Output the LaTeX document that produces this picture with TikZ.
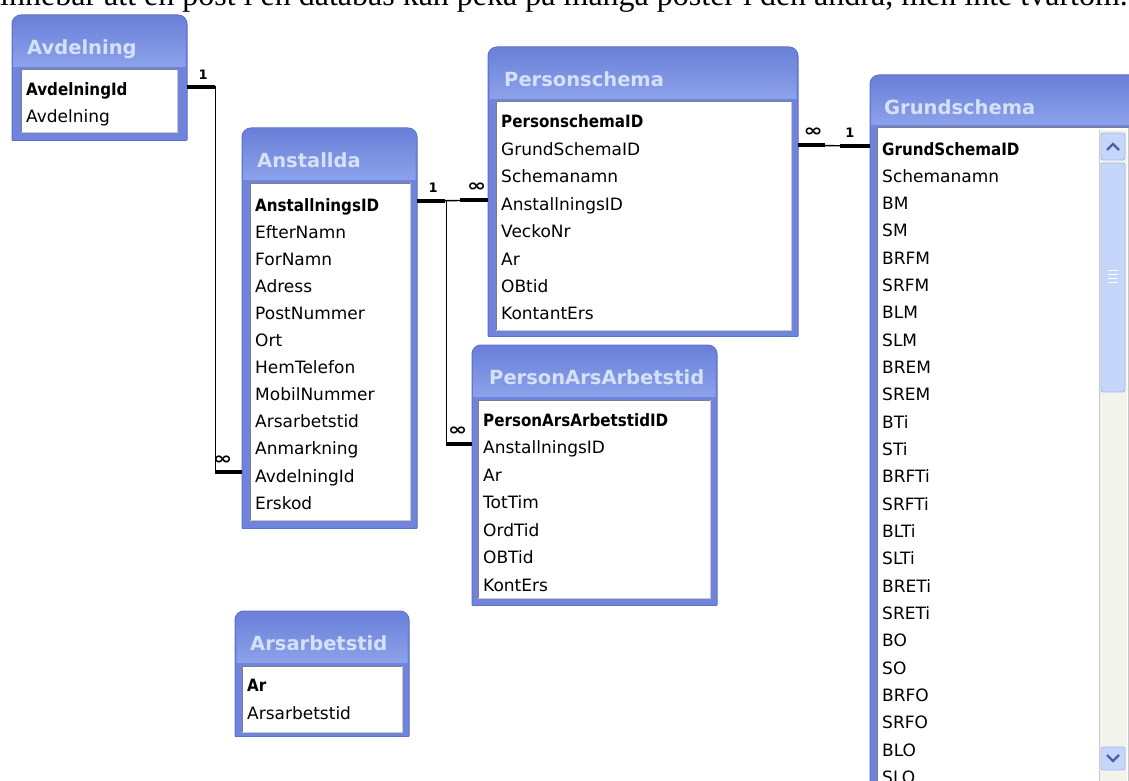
\documentclass[tikz,border=0pt]{standalone}
\usepackage{fontspec}
\setmainfont{DejaVu Sans}
\newfontfamily\keyfont[FakeStretch=0.89]{DejaVu Sans}
\newfontfamily\serifline{Liberation Serif}
\usetikzlibrary{calc,fit}
\definecolor{boxblue}{HTML}{6F84DA}
\definecolor{boxedge}{HTML}{5C70CE}
\definecolor{titletop}{HTML}{6A80D8}
\definecolor{titlebot}{HTML}{8CA2EB}
\definecolor{titletext}{HTML}{D5E1F7}
\definecolor{innerdark}{HTML}{7F7F7F}
\definecolor{innerlight}{HTML}{C8C8C8}
\definecolor{scrollbg}{HTML}{F3F3EE}
\definecolor{thumbfill}{HTML}{C6D5FA}
\definecolor{thumbedge}{HTML}{A9BAEB}
\definecolor{chevron}{HTML}{4D5FA6}
\tikzset{
  field/.style={anchor=base west, inner sep=0pt, text=black, font=\fontsize{17}{19}\selectfont},
  keyfield/.style={anchor=base west, inner sep=0pt, text=black, font=\keyfont\bfseries\fontsize{17}{19}\selectfont},
  ttl/.style={anchor=base west, inner sep=0pt, text=titletext, font=\bfseries\fontsize{19.5}{22}\selectfont},
  thickend/.style={line width=4pt},
  link/.style={line width=1.4pt},
  onelbl/.style={inner sep=0pt, font=\bfseries\fontsize{13}{13}\selectfont},
  manylbl/.style={inner sep=0pt, font=\bfseries\fontsize{17}{17}\selectfont},
}
\newcommand\tablebox[9]{%
  \node[fit={(#2,#3) (#4,#5)}, inner sep=0pt] (#1) {};
  \fill[boxblue, rounded corners=9pt] (#2,#5) -- (#2,#3) -- (#4,#3) -- (#4,#5);
  \shade[top color=titletop, bottom color=titlebot, rounded corners=8pt] (#2+1.5,#7-3) -- (#2+1.5,#3+1.5) -- (#4-1.5,#3+1.5) -- (#4-1.5,#7-3);
  \draw[boxedge, line width=1pt, rounded corners=9pt] (#2,#5) -- (#2,#3) -- (#4,#3) -- (#4,#5);
  \draw[boxedge, line width=1pt] (#2,#5) -- (#4,#5);
  \fill[white] (#6,#7) rectangle (#8,#9);
  \draw[innerdark, line width=1pt] (#6,#9) -- (#6,#7) -- (#8,#7);
  \draw[innerlight, line width=1pt] (#8,#7) -- (#8,#9) -- (#6,#9);
}
\newcommand\manysym{\scalebox{1.35}[1]{∞}}
\begin{document}
\begin{tikzpicture}[x=1pt,y=-1pt]
\useasboundingbox (0,0) rectangle (1129,781);
\fill[white] (0,0) rectangle (1129,781);
\clip (0,0) rectangle (1129,781);

% cut-off line of text at the top
\node[anchor=base west, inner sep=0pt, font=\serifline\fontsize{32}{32}\selectfont] (topline) at (0,6) {innebär att en post i en databas kan peka på många poster i den andra, men inte tvärtom.};

% ---------- Avdelning
\tablebox{avd}{12}{15}{187}{140}{21}{70}{177}{133}
\node[ttl] (avd-t) at (27,55) {Avdelning};
\node[keyfield] (avd-0) at (26,96) {AvdelningId};
\node[field] (avd-1) at (26,123) {Avdelning};

% ---------- Anstallda
\tablebox{anst}{242}{128}{417}{528}{250}{183}{410}{520}
\node[ttl] (anst-t) at (257,167) {Anstallda};
\node[keyfield] (anst-0) at (255,211) {AnstallningsID};
\foreach \t [count=\i] in {EfterNamn,ForNamn,Adress,PostNummer,Ort,HemTelefon,MobilNummer,Arsarbetstid,Anmarkning,AvdelningId,Erskod}
  \node[field] (anst-\i) at (255,211+27.1*\i) {\t};

% ---------- Personschema
\tablebox{pers}{488}{47}{798}{336}{496}{102}{791}{330}
\node[ttl] (pers-t) at (504,87) {Personschema};
\node[keyfield] (pers-0) at (501,128) {PersonschemaID};
\foreach \t [count=\i] in {GrundSchemaID,Schemanamn,AnstallningsID,VeckoNr,Ar,OBtid,KontantErs}
  \node[field] (pers-\i) at (501,128+27.4*\i) {\t};

% ---------- Grundschema
\tablebox{grund}{870}{75}{1140}{800}{877}{128}{1128}{800}
\node[ttl] (grund-t) at (884,114) {Grundschema};
\node[keyfield] (grund-0) at (882,155) {GrundSchemaID};
\foreach \t [count=\i] in {Schemanamn,BM,SM,BRFM,SRFM,BLM,SLM,BREM,SREM,BTi,STi,BRFTi,SRFTi,BLTi,SLTi,BRETi,SRETi,BO,SO,BRFO,SRFO,BLO,SLO}
  \node[field] (grund-\i) at (882,155+27.32*\i) {\t};
% scrollbar
\fill[scrollbg] (1099,130) rectangle (1127,800);
\draw[innerlight, line width=0.6pt] (1099,130) -- (1099,800);
\draw[draw=thumbedge, line width=0.8pt, rounded corners=2pt, fill=thumbfill] (1101,133) rectangle (1125,160);
\draw[chevron, line width=2.2pt] (1107,150) -- (1113,144) -- (1119,150);
\draw[draw=thumbedge, line width=0.8pt, rounded corners=2pt, fill=thumbfill] (1101,163) rectangle (1125,392);
\foreach \g in {270,274,278,282}
  \draw[white, line width=0.8pt] (1108,\g) -- (1118,\g);
\draw[draw=thumbedge, line width=0.8pt, rounded corners=2pt, fill=thumbfill] (1101,747) rectangle (1125,770);
\draw[chevron, line width=2.2pt] (1107,755) -- (1113,761) -- (1119,755);

% ---------- PersonArsArbetstid
\tablebox{paa}{472}{345}{717}{605}{478}{400}{710}{598}
\node[ttl] (paa-t) at (489,384) {PersonArsArbetstid};
\node[keyfield] (paa-0) at (483,426) {PersonArsArbetstidID};
\foreach \t [count=\i] in {AnstallningsID,Ar,TotTim,OrdTid,OBTid,KontErs}
  \node[field] (paa-\i) at (483,426+27.5*\i) {\t};

% ---------- Arsarbetstid
\tablebox{ars}{235}{611}{409}{736}{242}{666}{402}{732}
\node[ttl] (ars-t) at (250,650) {Arsarbetstid};
\node[keyfield] (ars-0) at (247,691) {Ar};
\node[field] (ars-1) at (247,719) {Arsarbetstid};

% ---------- relationships
% Avdelning 1 -- oo Anstallda
\coordinate (r1a) at ($(avd.east|-avd-0.base)+(0,-9)$);
\coordinate (r1b) at ($(anst.west|-anst-10.base)+(0,-10)$);
\draw[link] (r1a) -- ++(28,0) |- (r1b);
\draw[thickend] (r1a) -- ++(28,0);
\draw[thickend] (r1b) -- ++(-27,0);
\node[onelbl] (r1one) at ($(r1a)+(16,-12)$) {1};
\node[manylbl] (r1many) at ($(r1b)+(-19,-12)$) {\manysym};

% Anstallda 1 -- oo Personschema
\coordinate (r2a) at ($(anst.east|-anst-0.base)+(0,-10)$);
\coordinate (r2b) at ($(pers.west|-pers-3.base)+(0,-10)$);
\draw[link] (r2a) -- (r2b);
\draw[thickend] (r2a) -- ++(28,0);
\draw[thickend] (r2b) -- ++(-28,0);
\node[onelbl] (r2one) at ($(r2a)+(16,-13)$) {1};
\node[manylbl] (r2many) at ($(r2b)+(-11,-13)$) {\manysym};

% Anstallda 1 -- oo PersonArsArbetstid
\coordinate (r3b) at ($(paa.west|-paa-1.base)+(0,-10)$);
\draw[link] ($(r2a)+(29,0)$) |- (r3b);
\draw[thickend] (r3b) -- ++(-26,0);
\node[manylbl] (r3many) at ($(r3b)+(-14,-12)$) {\manysym};

% Personschema oo -- 1 Grundschema
\coordinate (r4a) at ($(pers.east|-pers-1.base)+(0,-10)$);
\coordinate (r4b) at ($(grund.west|-grund-0.base)+(0,-9)$);
\draw[link] (r4a) -- (r4b);
\draw[thickend] (r4a) -- ++(27,0);
\draw[thickend] (r4b) -- ++(-30,0);
\node[manylbl] (r4many) at ($(r4a)+(15,-13)$) {\manysym};
\node[onelbl] (r4one) at ($(r4b)+(-20,-13)$) {1};
\end{tikzpicture}
\end{document}
